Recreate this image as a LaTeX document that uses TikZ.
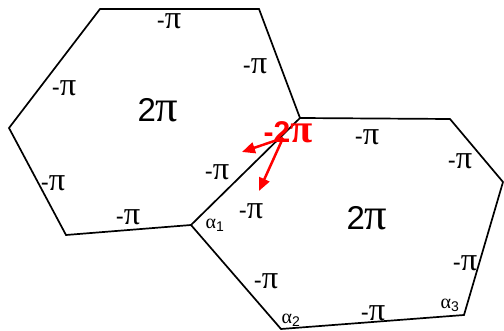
\documentclass[tikz,border=0pt]{standalone}
\usepackage{fontspec}
\usepackage{graphicx}
\setmainfont{Liberation Sans}
\newfontfamily\grk{Liberation Serif}
\usetikzlibrary{arrows.meta}

\newcommand{\gpi}{{\grk\scalebox{1.35}{π}}}
\newcommand{\mpi}{-\gpi}

\begin{document}
\begin{tikzpicture}[
  x=1pt, y=-1pt,
  edge/.style={draw, line width=1.7pt, line join=miter},
  lbl/.style={font=\fontsize{24}{26}\selectfont, inner sep=0pt},
  big/.style={font=\fontsize{33}{36}\selectfont, inner sep=0pt},
  ang/.style={font=\fontsize{20}{22}\selectfont, inner sep=0pt},
  hot/.style={font=\fontsize{30}{32}\selectfont\bfseries, text=red, inner sep=0pt},
  arr/.style={-{Triangle[length=13pt,width=11pt]}, red, line width=2.5pt}
]
\useasboundingbox (0,0) rectangle (504,331);

% Vertices, left cell
\coordinate (l1) at (100,9);
\coordinate (l2) at (259,9);
\coordinate (l3) at (300,118);
\coordinate (l4) at (191,225);
\coordinate (l5) at (66,235);
\coordinate (l6) at (9,128);

% Vertices, right cell
\coordinate (r2) at (450,119);
\coordinate (r3) at (503,182);
\coordinate (r4) at (464,315);
\coordinate (r5) at (281,329);

% Cells
\draw[edge] (l1) -- (l2) -- (l3) -- (l4) -- (l5) -- (l6) -- cycle;
\draw[edge] (l3) -- (r2) -- (r3) -- (r4) -- (r5) -- (l4);

% Left cell labels
\node[big] (lc)  at (158,110) {2\gpi};
\node[lbl] (la)  at (169,21)  {\mpi};
\node[lbl] (lb)  at (255,66)  {\mpi};
\node[lbl] (lf)  at (64,88)   {\mpi};
\node[lbl] (le)  at (53,183)  {\mpi};
\node[lbl] (ld)  at (128,217) {\mpi};
\node[lbl] (lin) at (217,172) {\mpi};

% Right cell labels
\node[big] (rc)  at (367,218) {2\gpi};
\node[lbl] (ra)  at (367,137) {\mpi};
\node[lbl] (rb)  at (460,161) {\mpi};
\node[lbl] (rd)  at (465,263) {\mpi};
\node[lbl] (re)  at (373,313) {\mpi};
\node[lbl] (rf)  at (266,281) {\mpi};
\node[lbl] (rin) at (251,211) {\mpi};

% Angles
\node[ang] (a1) at (215,225) {{\grk α}\textsubscript{1}};
\node[ang] (a2) at (291,320) {{\grk α}\textsubscript{2}};
\node[ang] (a3) at (450,305) {{\grk α}\textsubscript{3}};

% Defect and its arrows
\coordinate (src)  at (283,138);
\coordinate (tipl) at (242,152);
\coordinate (tipr) at (259,191);
\draw[arr] (src) -- (tipl);
\draw[arr] (src) -- (tipr);
\node[hot] (dft) at (288,132) {-2\gpi};

\end{tikzpicture}
\end{document}
